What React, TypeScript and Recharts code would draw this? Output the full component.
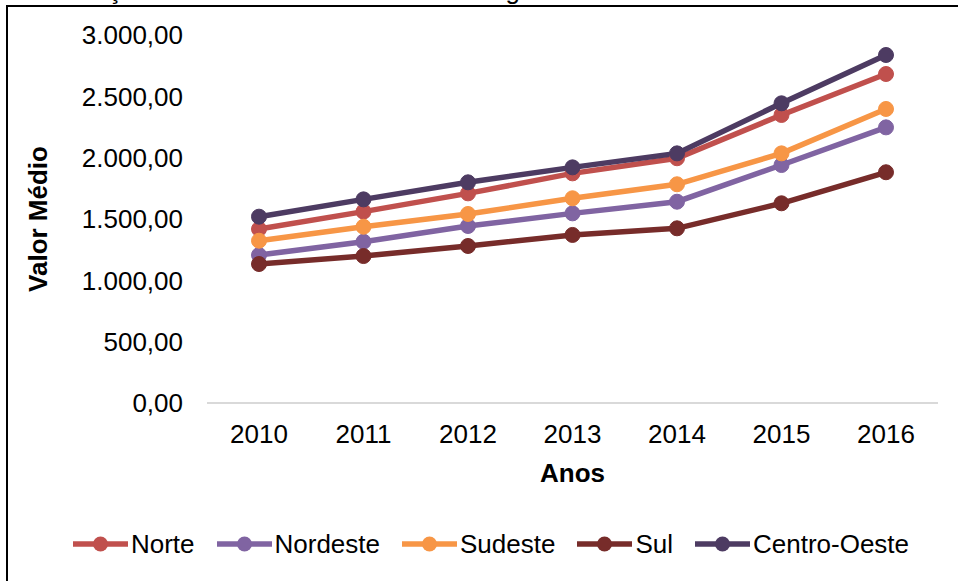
import React from "react";
import { LineChart, Line, XAxis, YAxis, Label } from "recharts";

const years = ["2010", "2011", "2012", "2013", "2014", "2015", "2016"];
const norte = [1418, 1560, 1709, 1872, 1995, 2348, 2682];
const nordeste = [1206, 1315, 1443, 1546, 1641, 1940, 2247];
const sudeste = [1323, 1437, 1541, 1669, 1783, 2035, 2397];
const sul = [1133, 1198, 1280, 1370, 1424, 1628, 1881];
const centroOeste = [1519, 1660, 1799, 1921, 2035, 2443, 2837];
const yTicks = [0, 500, 1000, 1500, 2000, 2500, 3000];

const seriesDefs = [
  { key: "Norte", values: norte, color: "#C0504D" },
  { key: "Nordeste", values: nordeste, color: "#8064A2" },
  { key: "Sudeste", values: sudeste, color: "#F79646" },
  { key: "Sul", values: sul, color: "#772C2A" },
  { key: "Centro-Oeste", values: centroOeste, color: "#4D3B62" },
];

const data = years.map((y, i) => {
  const row: Record<string, string | number> = { year: y };
  seriesDefs.forEach((s) => {
    row[s.key] = s.values[i];
  });
  return row;
});

const FONT = "'Liberation Sans', Arial, sans-serif";

function fmt(v: number): string {
  const intPart = Math.floor(v).toString().replace(/\B(?=(\d{3})+(?!\d))/g, ".");
  return intPart + ",00";
}

const LegendBlock = () => (
  <div
    style={{
      position: "absolute",
      left: 0,
      top: 529,
      width: 982,
      display: "flex",
      justifyContent: "center",
      alignItems: "center",
      gap: 22,
      fontFamily: FONT,
      fontSize: 26,
      color: "#000",
      lineHeight: "30px",
    }}
  >
    {seriesDefs.map((s) => (
      <div key={s.key} style={{ display: "flex", alignItems: "center" }}>
        <svg width={55} height={20} style={{ marginRight: 3 }}>
          <line x1={1} y1={10} x2={54} y2={10} stroke={s.color} strokeWidth={5.5} strokeLinecap="round" />
          <circle cx={27.5} cy={10} r={7.5} fill={s.color} />
        </svg>
        <span>{s.key}</span>
      </div>
    ))}
  </div>
);

export default function App() {
  return (
    <div
      style={{
        position: "fixed",
        left: 0,
        top: 0,
        width: 958,
        height: 581,
        overflow: "hidden",
        background: "#fff",
      }}
    >
      <div
        style={{
          position: "absolute",
          left: 0,
          top: -25,
          fontFamily: FONT,
          fontSize: 26,
          whiteSpace: "nowrap",
          lineHeight: "30px",
          paddingLeft: 4,
        }}
      >
        Continuação Salários Consolidados nas Regiões Brasileiras
      </div>
      <div
        style={{
          position: "absolute",
          left: 6,
          top: 5,
          width: 1000,
          height: 700,
          border: "2px solid #000",
        }}
      />
      <div style={{ position: "absolute", left: 0, top: 0 }}>
        <LineChart
          width={958}
          height={581}
          data={data}
          margin={{ top: 35, right: 20, bottom: 148, left: 0 }}
        >
          <XAxis
            dataKey="year"
            height={30}
            padding={{ left: 52, right: 52 }}
            tickLine={false}
            axisLine={{ stroke: "#D9D9D9", strokeWidth: 2 }}
            tick={{ fill: "#000", fontSize: 26, fontFamily: FONT }}
            tickMargin={16}
            interval={0}
          >
            <Label
              content={(props: any) => {
                const vb = props.viewBox;
                return (
                  <text
                    x={vb.x + vb.width / 2}
                    y={vb.y + 79}
                    textAnchor="middle"
                    fontFamily={FONT}
                    fontSize={26}
                    fontWeight="bold"
                    fill="#000"
                  >
                    Anos
                  </text>
                );
              }}
            />
          </XAxis>
          <YAxis
            width={207}
            domain={[0, 3000]}
            ticks={yTicks}
            tickFormatter={fmt}
            tickLine={false}
            axisLine={false}
            tick={{ fill: "#000", fontSize: 26, fontFamily: FONT }}
            tickMargin={18}
          >
            <Label
              content={(props: any) => {
                const vb = props.viewBox;
                const cx = vb.x + 38;
                const cy = vb.y + vb.height / 2;
                return (
                  <text
                    x={cx}
                    y={cy}
                    transform={`rotate(-90 ${cx} ${cy})`}
                    textAnchor="middle"
                    dominantBaseline="central"
                    fontFamily={FONT}
                    fontSize={26}
                    fontWeight="bold"
                    fill="#000"
                  >
                    Valor Médio
                  </text>
                );
              }}
            />
          </YAxis>
          {seriesDefs.map((s) => (
            <Line
              key={s.key}
              dataKey={s.key}
              stroke={s.color}
              strokeWidth={5.5}
              dot={{ r: 7.5, fill: s.color, stroke: s.color, strokeWidth: 1 }}
              activeDot={false}
              isAnimationActive={false}
            />
          ))}
        </LineChart>
      </div>
      <LegendBlock />
    </div>
  );
}
